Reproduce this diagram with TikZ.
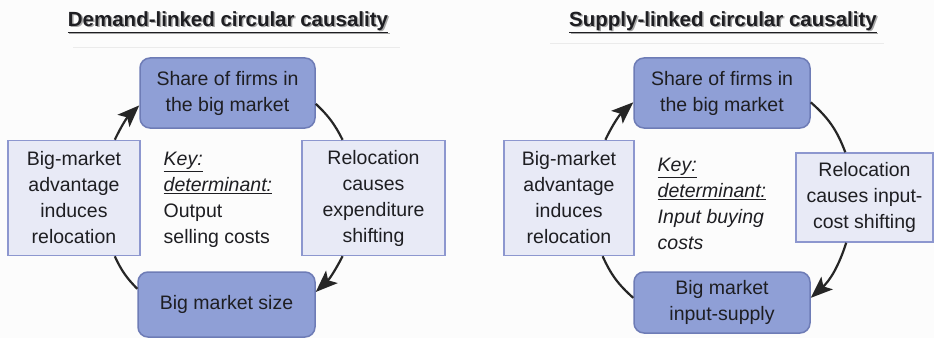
\documentclass[tikz,border=0pt]{standalone}
\usepackage{fontspec}
\setmainfont{Liberation Sans}
\usetikzlibrary{arrows.meta}

\definecolor{boxblue}{RGB}{143,159,214}
\definecolor{boxedge}{RGB}{110,124,182}
\definecolor{pale}{RGB}{232,234,246}
\definecolor{paleedge}{RGB}{141,151,207}
\definecolor{ink}{RGB}{30,30,34}

\begin{document}
\begin{tikzpicture}[x=1pt, y=1pt, thick,
    every node/.style={text=ink, font=\fontsize{19.5}{26}\selectfont},
    mainbox/.style={draw=boxedge, fill=boxblue, line width=1.5pt, rounded corners=10pt,
        align=center, inner sep=0pt},
    sidebox/.style={draw=paleedge, fill=pale, line width=1.5pt, align=center, inner sep=0pt},
    cyc/.style={line width=2.2pt, black!85},
    headarrow/.style={-{Stealth[length=22pt,width=17pt,inset=5pt]}},
    heading/.style={font=\fontsize{20.5}{22}\bfseries}]
    \fill[black!1] (0,0) rectangle (934,338);
    \useasboundingbox (0,0) rectangle (934,338);

    % demand-linked panel
    \node[heading, text=black!35] () at (229.5,314.5) {\underline{Demand-linked circular causality}};
    \node[heading] (dtitle) at (228,316) {\underline{Demand-linked circular causality}};
    \draw[black!8, thin] (73,291) -- (400,291);
    \node[mainbox, minimum width=175, minimum height=70] (dtop) at (227.5,245) {Share of firms in\\the big market};
    \node[sidebox, minimum width=132, minimum height=115] (dleft) at (74,140) {Big-market\\advantage\\induces\\relocation};
    \node[sidebox, minimum width=143, minimum height=115] (dright) at (373.5,140) {Relocation\\causes\\expenditure\\shifting};
    \node[mainbox, minimum width=177, minimum height=65] (dbot) at (226.5,33.5) {Big market size};
    \node[anchor=west, align=left] (dkey) at (160,138) {\underline{\itshape Key:}\\\underline{\itshape determinant:}\\Output\\selling costs};
    \draw[cyc, headarrow] (dleft.55) to[bend left=10] (dtop.188);
    \draw[cyc] (dtop.-7) to[bend left=10] (dright.118);
    \draw[cyc, headarrow] (dright.-118) to[bend left=10] (dbot.8);
    \draw[cyc] (dbot.170) to[bend left=10] (dleft.-55);

    % supply-linked panel
    \node[heading, text=black!35] () at (724.5,314.5) {\underline{Supply-linked circular causality}};
    \node[heading] (stitle) at (723,316) {\underline{Supply-linked circular causality}};
    \draw[black!8, thin] (550,295) -- (884,295);
    \node[mainbox, minimum width=176, minimum height=70] (stop) at (722,245) {Share of firms in\\the big market};
    \node[sidebox, minimum width=130, minimum height=115] (sleft) at (569,140) {Big-market\\advantage\\induces\\relocation};
    \node[sidebox, minimum width=137, minimum height=89] (sright) at (864.5,140.5) {Relocation\\causes input-\\cost shifting};
    \node[mainbox, minimum width=176, minimum height=61] (sbot) at (722,35.5) {Big market\\input-supply};
    \node[anchor=west, align=left, font=\fontsize{19.5}{26}\selectfont\itshape] (skey) at (654,134) {\underline{Key:}\\\underline{determinant:}\\Input buying\\costs};
    \draw[cyc, headarrow] (sleft.58) to[bend left=11] (stop.186);
    \draw[cyc] (stop.-6) to[bend left=14] (sright.113);
    \draw[cyc, headarrow] (sright.248) to[bend left=15] (sbot.3);
    \draw[cyc] (sbot.177) to[bend left=12] (sleft.-60);
\end{tikzpicture}
\end{document}
